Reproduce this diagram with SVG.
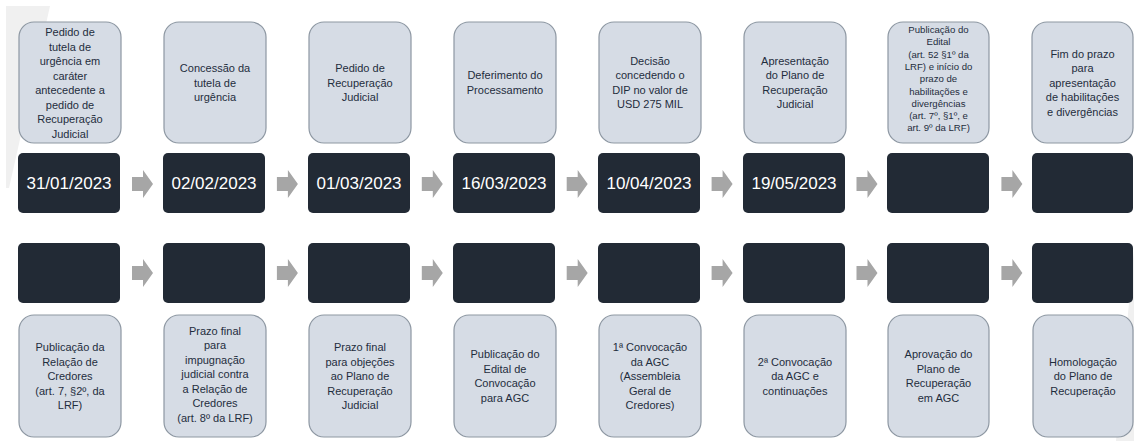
<svg xmlns="http://www.w3.org/2000/svg" width="1134" height="441" viewBox="0 0 1134 441">
<style>
.lb{fill:#d6dce5;stroke:#8d97a2;stroke-width:1.2}
.db{fill:#222a35}
.t{font-family:"Liberation Sans",Arial,sans-serif;font-size:11px;fill:#1f2d3d;text-anchor:middle}
.ts{font-family:"Liberation Sans",Arial,sans-serif;font-size:9.6px;fill:#1f2d3d;text-anchor:middle}
.d{font-family:"Liberation Sans",Arial,sans-serif;font-size:17px;fill:#ffffff;text-anchor:middle}
.ar{fill:#a6a6a6}
</style>
<rect width="1134" height="441" fill="#ffffff"/>
<polygon points="6,6 50,6 9,188 6,188" fill="#f0f0f0"/>
<polygon points="1134,250 1134,441 1116,441" fill="#f0f0f0"/>

<g id="connectors">
<polygon class="ar" points="132,177 143,177 143,170 153,184 143,198 143,191 132,191"/>
<polygon class="ar" transform="translate(144.9,0)" points="132,177 143,177 143,170 153,184 143,198 143,191 132,191"/>
<polygon class="ar" transform="translate(289.8,0)" points="132,177 143,177 143,170 153,184 143,198 143,191 132,191"/>
<polygon class="ar" transform="translate(434.7,0)" points="132,177 143,177 143,170 153,184 143,198 143,191 132,191"/>
<polygon class="ar" transform="translate(579.6,0)" points="132,177 143,177 143,170 153,184 143,198 143,191 132,191"/>
<polygon class="ar" transform="translate(724.5,0)" points="132,177 143,177 143,170 153,184 143,198 143,191 132,191"/>
<polygon class="ar" transform="translate(869.4,0)" points="132,177 143,177 143,170 153,184 143,198 143,191 132,191"/>
<polygon class="ar" transform="translate(0,89)" points="132,177 143,177 143,170 153,184 143,198 143,191 132,191"/>
<polygon class="ar" transform="translate(144.9,89)" points="132,177 143,177 143,170 153,184 143,198 143,191 132,191"/>
<polygon class="ar" transform="translate(289.8,89)" points="132,177 143,177 143,170 153,184 143,198 143,191 132,191"/>
<polygon class="ar" transform="translate(434.7,89)" points="132,177 143,177 143,170 153,184 143,198 143,191 132,191"/>
<polygon class="ar" transform="translate(579.6,89)" points="132,177 143,177 143,170 153,184 143,198 143,191 132,191"/>
<polygon class="ar" transform="translate(724.5,89)" points="132,177 143,177 143,170 153,184 143,198 143,191 132,191"/>
<polygon class="ar" transform="translate(869.4,89)" points="132,177 143,177 143,170 153,184 143,198 143,191 132,191"/>
</g>

<!-- Top row -->
<g id="top1">
<rect class="lb" x="19" y="22" width="102" height="121" rx="15"/>
<text class="t" x="70"><tspan x="70" y="36">Pedido de</tspan><tspan x="70" y="50.5">tutela de</tspan><tspan x="70" y="65">urgência em</tspan><tspan x="70" y="79.5">caráter</tspan><tspan x="70" y="94">antecedente a</tspan><tspan x="70" y="108.5">pedido de</tspan><tspan x="70" y="123">Recuperação</tspan><tspan x="70" y="137.5">Judicial</tspan></text>
<rect class="db" x="18" y="153" width="102" height="60" rx="5"/>
<text class="d" x="69" y="189">31/01/2023</text>
</g>
<g id="top2">
<rect class="lb" x="164" y="22" width="102" height="121" rx="15"/>
<text class="t"><tspan x="215" y="72">Concessão da</tspan><tspan x="215" y="86.5">tutela de</tspan><tspan x="215" y="101">urgência</tspan></text>
<rect class="db" x="163" y="153" width="102" height="60" rx="5"/>
<text class="d" x="214" y="189">02/02/2023</text>
</g>
<g id="top3">
<rect class="lb" x="309" y="22" width="102" height="121" rx="15"/>
<text class="t"><tspan x="360" y="72">Pedido de</tspan><tspan x="360" y="86.5">Recuperação</tspan><tspan x="360" y="101">Judicial</tspan></text>
<rect class="db" x="308" y="153" width="102" height="60" rx="5"/>
<text class="d" x="359" y="189">01/03/2023</text>
</g>
<g id="top4">
<rect class="lb" x="454" y="22" width="102" height="121" rx="15"/>
<text class="t"><tspan x="505" y="79">Deferimento do</tspan><tspan x="505" y="93.5">Processamento</tspan></text>
<rect class="db" x="453" y="153" width="102" height="60" rx="5"/>
<text class="d" x="504" y="189">16/03/2023</text>
</g>
<g id="top5">
<rect class="lb" x="599" y="22" width="102" height="121" rx="15"/>
<text class="t"><tspan x="650" y="64.5">Decisão</tspan><tspan x="650" y="79">concedendo o</tspan><tspan x="650" y="93.5">DIP no valor de</tspan><tspan x="650" y="108">USD 275 MIL</tspan></text>
<rect class="db" x="598" y="153" width="102" height="60" rx="5"/>
<text class="d" x="649" y="189">10/04/2023</text>
</g>
<g id="top6">
<rect class="lb" x="744" y="22" width="102" height="121" rx="15"/>
<text class="t"><tspan x="795" y="64.5">Apresentação</tspan><tspan x="795" y="79">do Plano de</tspan><tspan x="795" y="93.5">Recuperação</tspan><tspan x="795" y="108">Judicial</tspan></text>
<rect class="db" x="743" y="153" width="102" height="60" rx="5"/>
<text class="d" x="794" y="189">19/05/2023</text>
</g>
<g id="top7">
<rect class="lb" x="888" y="22" width="101" height="121" rx="15"/>
<text class="ts"><tspan x="938.5" y="33">Publicação do</tspan><tspan x="938.5" y="45.3">Edital</tspan><tspan x="938.5" y="57.6">(art. 52 §1º da</tspan><tspan x="938.5" y="69.9">LRF) e início do</tspan><tspan x="938.5" y="82.2">prazo de</tspan><tspan x="938.5" y="94.5">habilitações e</tspan><tspan x="938.5" y="106.8">divergências</tspan><tspan x="938.5" y="119.1">(art. 7º, §1º, e</tspan><tspan x="938.5" y="131.4">art. 9º da LRF)</tspan></text>
<rect class="db" x="887" y="153" width="102" height="60" rx="5"/>
</g>
<g id="top8">
<rect class="lb" x="1032" y="22" width="101" height="121" rx="15"/>
<text class="t"><tspan x="1082.5" y="57.5">Fim do prazo</tspan><tspan x="1082.5" y="72">para</tspan><tspan x="1082.5" y="86.5">apresentação</tspan><tspan x="1082.5" y="101">de habilitações</tspan><tspan x="1082.5" y="115.5">e divergências</tspan></text>
<rect class="db" x="1032" y="153" width="101" height="60" rx="5"/>
</g>

<!-- Bottom row -->
<g id="bot1">
<rect class="db" x="18" y="243" width="102" height="60" rx="5"/>
<rect class="lb" x="19" y="315" width="102" height="122" rx="15"/>
<text class="t"><tspan x="70" y="351">Publicação da</tspan><tspan x="70" y="365.5">Relação de</tspan><tspan x="70" y="380">Credores</tspan><tspan x="70" y="394.5">(art. 7, §2º, da</tspan><tspan x="70" y="409">LRF)</tspan></text>
</g>
<g id="bot2">
<rect class="db" x="163" y="243" width="102" height="60" rx="5"/>
<rect class="lb" x="164" y="315" width="102" height="122" rx="15"/>
<text class="t"><tspan x="215" y="334.5">Prazo final</tspan><tspan x="215" y="349">para</tspan><tspan x="215" y="363.5">impugnação</tspan><tspan x="215" y="378">judicial contra</tspan><tspan x="215" y="392.5">a Relação de</tspan><tspan x="215" y="407">Credores</tspan><tspan x="215" y="421.5">(art. 8º da LRF)</tspan></text>
</g>
<g id="bot3">
<rect class="db" x="308" y="243" width="102" height="60" rx="5"/>
<rect class="lb" x="309" y="315" width="102" height="122" rx="15"/>
<text class="t"><tspan x="360" y="351">Prazo final</tspan><tspan x="360" y="365.5">para objeções</tspan><tspan x="360" y="380">ao Plano de</tspan><tspan x="360" y="394.5">Recuperação</tspan><tspan x="360" y="409">Judicial</tspan></text>
</g>
<g id="bot4">
<rect class="db" x="453" y="243" width="102" height="60" rx="5"/>
<rect class="lb" x="454" y="315" width="102" height="122" rx="15"/>
<text class="t"><tspan x="505" y="358">Publicação do</tspan><tspan x="505" y="372.5">Edital de</tspan><tspan x="505" y="387">Convocação</tspan><tspan x="505" y="401.5">para AGC</tspan></text>
</g>
<g id="bot5">
<rect class="db" x="598" y="243" width="102" height="60" rx="5"/>
<rect class="lb" x="599" y="315" width="102" height="122" rx="15"/>
<text class="t"><tspan x="650" y="351">1ª Convocação</tspan><tspan x="650" y="365.5">da AGC</tspan><tspan x="650" y="380">(Assembleia</tspan><tspan x="650" y="394.5">Geral de</tspan><tspan x="650" y="409">Credores)</tspan></text>
</g>
<g id="bot6">
<rect class="db" x="743" y="243" width="102" height="60" rx="5"/>
<rect class="lb" x="744" y="315" width="102" height="122" rx="15"/>
<text class="t"><tspan x="795" y="365.5">2ª Convocação</tspan><tspan x="795" y="380">da AGC e</tspan><tspan x="795" y="394.5">continuações</tspan></text>
</g>
<g id="bot7">
<rect class="db" x="887" y="243" width="102" height="60" rx="5"/>
<rect class="lb" x="888" y="315" width="101" height="122" rx="15"/>
<text class="t"><tspan x="938.5" y="358">Aprovação do</tspan><tspan x="938.5" y="372.5">Plano de</tspan><tspan x="938.5" y="387">Recuperação</tspan><tspan x="938.5" y="401.5">em AGC</tspan></text>
</g>
<g id="bot8">
<rect class="db" x="1032" y="243" width="101" height="60" rx="5"/>
<rect class="lb" x="1033" y="315" width="100" height="122" rx="15"/>
<text class="t"><tspan x="1083" y="365.5">Homologação</tspan><tspan x="1083" y="380">do Plano de</tspan><tspan x="1083" y="394.5">Recuperação</tspan></text>
</g>
</svg>
